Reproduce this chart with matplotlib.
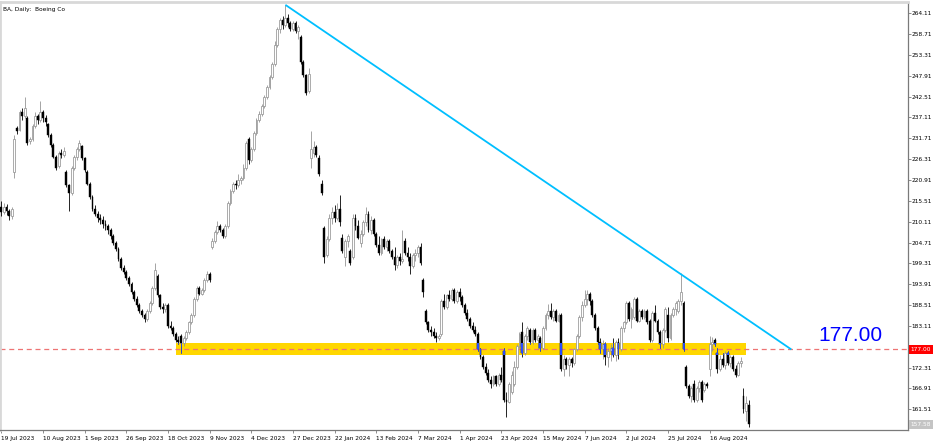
import matplotlib
matplotlib.use("Agg")
import matplotlib.pyplot as plt
import matplotlib.transforms as mtransforms
from matplotlib.patches import Rectangle
import numpy as np

title = "BA, Daily:  Boeing Co"

opens = [
    214.0, 212.5, 214.0, 212.8, 211.5, 223.0, 234.5, 234.0, 238.5, 237.5,
    237.0, 231.0, 231.5, 235.0, 237.5, 236.5, 238.5, 237.0, 235.5, 232.5,
    230.0, 227.0, 224.5, 228.0, 227.5, 223.0, 219.5, 217.5, 224.0, 227.0,
    229.0, 229.7, 226.5, 223.0, 220.0, 216.5, 213.5, 212.0, 211.0, 210.5,
    209.5, 209.0, 208.0, 206.5, 204.5, 203.0, 200.5, 198.0, 197.0, 195.5,
    194.0, 192.0, 190.0, 188.5, 187.0, 186.0, 185.0, 187.0, 189.0, 193.0,
    196.0, 191.0, 188.0, 187.5, 188.5, 183.0, 182.5, 181.0, 179.5, 180.5,
    178.8, 180.0, 181.5, 184.0, 186.0, 190.0, 193.0, 191.5, 192.5, 195.0,
    196.5, 203.5, 205.0, 207.5, 209.0, 208.0, 206.5, 209.0, 215.0, 218.0,
    220.0, 219.5, 221.0, 221.5, 224.0, 231.5, 226.0, 229.0, 233.0, 236.5,
    238.0, 240.0, 242.5, 245.0, 247.5, 251.0, 256.0, 260.0, 262.5, 261.0,
    263.0, 261.5, 260.0, 261.5, 259.5, 258.0, 251.5, 248.0, 244.0, 226.5,
    228.0, 229.5, 226.6, 220.0, 208.5, 201.5, 205.5, 211.0, 212.5, 211.0,
    213.5, 206.0, 201.0, 205.0, 202.5, 201.0, 211.0, 209.0, 204.5, 207.0,
    210.0, 212.0, 208.0, 210.5, 207.0, 204.0, 202.0, 205.5, 203.5, 205.0,
    202.5, 201.0, 199.0, 201.0, 200.0, 205.0, 202.0, 201.0, 198.5, 201.5,
    202.0, 203.5, 195.0, 187.0, 184.0, 182.0, 181.5, 180.5, 180.0, 181.0,
    189.5, 188.0, 191.0, 190.0, 192.5, 189.5, 192.0, 190.5, 188.5, 186.5,
    185.0, 183.0, 182.0, 181.0, 177.0, 175.0, 172.5, 171.0, 169.0, 168.0,
    170.0, 168.0, 170.5, 176.5, 164.0, 163.5, 166.0, 168.0, 172.5, 178.0,
    181.5, 176.0, 180.5, 182.0, 179.0, 182.0, 179.5, 180.0, 177.5, 182.5,
    186.0, 187.0, 185.5, 187.0, 184.5, 186.0, 172.0, 174.5, 173.0, 174.5,
    173.5, 177.0, 180.5, 185.5, 188.5, 190.0, 191.5, 189.5, 186.0, 182.5,
    179.0, 177.0, 178.5, 175.0, 176.5, 177.5, 175.5, 179.0, 177.0, 182.5,
    184.0, 189.0, 185.0, 185.5, 190.0, 184.5, 187.0, 185.5, 187.0, 184.5,
    179.5, 186.5, 184.5, 181.5, 178.5, 182.0, 186.0, 180.0, 186.0, 187.5,
    187.0, 189.5, 189.0, 172.5, 167.5, 165.0, 168.0, 164.0, 167.0, 168.5,
    166.5, 168.0, 172.0, 178.5, 179.5, 176.0, 172.0, 174.5, 173.0, 176.0,
    173.5, 175.0, 172.0, 170.5, 173.5, 165.0, 161.0, 162.5,
]

highs = [
    215.5, 215.0, 214.8, 213.5, 214.0, 232.5, 235.0, 239.0, 239.5, 242.5,
    237.5, 232.0, 235.5, 238.5, 238.0, 241.4, 239.0, 237.8, 235.8, 233.0,
    230.5, 227.5, 228.5, 229.0, 229.5, 223.5, 220.0, 224.5, 227.5, 229.5,
    231.2, 230.0, 227.0, 223.5, 220.5, 217.0, 214.5, 213.0, 212.0, 211.5,
    210.5, 209.5, 208.5, 207.0, 205.0, 203.5, 201.0, 199.0, 197.5, 196.0,
    194.5, 192.5, 190.8, 189.0, 187.5, 186.5, 187.5, 189.5, 193.5, 199.5,
    196.5, 191.5, 189.0, 189.0, 189.0, 184.5, 183.0, 181.5, 180.5, 181.0,
    180.5, 182.0, 184.5, 186.5, 190.5, 193.5, 193.5, 193.0, 195.5, 197.4,
    197.0, 206.0, 208.0, 210.3, 209.5, 208.5, 209.5, 215.5, 218.5, 220.5,
    221.0, 222.5, 222.0, 225.0, 231.0, 232.0, 229.5, 233.5, 237.0, 238.8,
    240.5, 243.0, 245.5, 248.0, 251.5, 256.9, 260.5, 263.0, 263.5, 266.2,
    264.0, 262.0, 262.0, 262.0, 261.0, 258.5, 252.0, 248.5, 250.0, 233.5,
    231.0, 230.0, 227.5, 221.0, 209.0, 206.5, 212.0, 214.0, 214.5, 215.0,
    217.0, 207.0, 205.5, 207.0, 203.0, 212.0, 212.0, 210.5, 208.0, 210.5,
    213.8, 213.0, 211.5, 211.0, 207.5, 206.5, 206.0, 206.5, 205.5, 205.5,
    203.0, 203.5, 201.5, 202.0, 208.0, 206.0, 203.5, 202.0, 202.0, 203.0,
    204.0, 204.5, 195.5, 187.5, 184.5, 183.0, 182.5, 181.5, 181.0, 190.0,
    191.5, 191.5, 192.5, 193.0, 193.0, 192.5, 192.8, 191.0, 189.0, 187.5,
    185.5, 184.0, 183.0, 181.5, 177.5, 175.5, 173.5, 172.0, 170.0, 170.5,
    170.5, 171.0, 172.5, 177.5, 166.0, 168.5, 171.5, 174.0, 178.5, 181.5,
    184.0, 181.0, 183.0, 182.5, 182.5, 182.5, 181.0, 180.5, 183.0, 186.5,
    188.9, 189.0, 187.5, 187.5, 186.5, 186.5, 175.5, 175.0, 175.0, 175.0,
    177.5, 181.0, 186.0, 189.5, 192.5, 192.5, 192.0, 190.0, 186.5, 183.0,
    180.0, 179.5, 179.0, 177.5, 178.5, 180.0, 179.5, 180.0, 183.0, 184.5,
    189.5, 189.5, 188.0, 190.5, 190.5, 187.5, 187.5, 187.5, 187.5, 185.0,
    187.0, 188.5, 185.0, 182.0, 182.5, 188.0, 188.0, 186.5, 188.0, 189.5,
    190.0, 196.7, 189.5, 173.0, 168.0, 167.5, 169.0, 167.5, 169.0, 169.0,
    168.5, 168.5, 180.5, 180.2, 180.0, 177.5, 175.5, 176.0, 176.5, 176.5,
    175.5, 175.5, 173.0, 174.0, 175.0, 167.0, 165.0, 164.0,
]

lows = [
    211.5, 212.0, 211.8, 210.5, 210.8, 221.5, 232.8, 233.5, 236.5, 237.0,
    230.0, 230.2, 231.0, 234.5, 235.5, 236.0, 236.0, 235.0, 232.0, 229.5,
    226.5, 223.5, 224.0, 226.5, 226.8, 219.0, 213.0, 217.0, 223.5, 226.0,
    228.5, 226.0, 223.0, 219.5, 216.0, 213.0, 211.5, 210.0, 209.5, 208.5,
    208.0, 207.0, 205.5, 204.0, 202.5, 200.0, 197.5, 196.5, 195.0, 193.5,
    191.5, 189.5, 188.0, 186.5, 185.5, 184.0, 184.5, 186.5, 188.5, 192.5,
    190.5, 187.5, 186.5, 186.8, 182.5, 182.0, 180.5, 179.0, 178.5, 176.0,
    178.0, 179.5, 181.0, 183.5, 185.5, 189.5, 191.0, 191.0, 192.0, 194.5,
    194.5, 203.0, 204.5, 207.0, 207.5, 206.0, 206.0, 208.5, 214.5, 217.5,
    218.5, 219.0, 220.0, 221.0, 223.5, 225.0, 225.5, 228.5, 232.5, 236.0,
    237.5, 239.5, 242.0, 244.5, 247.0, 250.5, 255.5, 259.0, 260.0, 260.5,
    260.5, 259.5, 259.5, 259.0, 257.5, 251.0, 247.5, 243.0, 243.5, 224.0,
    227.0, 227.0, 222.0, 217.0, 199.5, 201.0, 205.0, 209.5, 210.0, 210.5,
    209.0, 202.0, 198.5, 203.5, 199.0, 200.5, 208.0, 205.5, 203.5, 206.5,
    209.0, 207.5, 207.0, 206.5, 203.5, 201.5, 201.5, 203.0, 202.5, 202.0,
    200.5, 197.5, 198.0, 199.0, 199.5, 201.5, 200.0, 196.5, 198.0, 200.0,
    201.0, 199.0, 190.5, 183.5, 181.5, 180.5, 180.0, 179.0, 179.5, 180.5,
    187.5, 187.5, 189.5, 189.5, 189.0, 189.0, 189.5, 188.0, 186.0, 184.5,
    182.5, 181.5, 180.5, 176.5, 174.5, 172.0, 170.5, 168.5, 167.0, 167.5,
    167.5, 167.5, 168.5, 163.5, 159.5, 163.0, 165.5, 167.5, 172.0, 177.5,
    175.0, 175.5, 179.5, 178.5, 178.5, 179.0, 177.0, 176.5, 177.0, 182.0,
    185.0, 185.0, 184.5, 184.0, 184.0, 171.5, 170.0, 172.0, 170.0, 172.5,
    173.0, 176.5, 180.0, 184.5, 188.0, 188.5, 188.5, 185.5, 182.0, 178.5,
    176.0, 174.5, 173.0, 172.5, 174.0, 175.0, 174.0, 174.5, 176.5, 181.5,
    183.5, 184.5, 182.5, 185.0, 184.0, 184.0, 185.0, 185.0, 183.5, 179.0,
    179.0, 184.0, 181.0, 177.5, 177.5, 181.5, 179.0, 179.5, 185.5, 186.0,
    186.5, 188.5, 176.5, 167.0, 164.5, 163.5, 163.5, 163.5, 166.0, 163.5,
    166.0, 167.0, 170.0, 176.5, 178.0, 171.0, 171.5, 172.5, 172.0, 173.0,
    172.5, 171.5, 169.8, 170.0, 172.5, 160.5, 158.5, 157.0,
]

closes = [
    212.5, 214.0, 212.8, 211.5, 213.5, 231.5, 233.5, 238.5, 237.5, 239.5,
    230.5, 231.5, 235.0, 237.5, 236.5, 238.5, 237.0, 236.0, 232.5, 230.0,
    227.0, 224.0, 228.0, 227.5, 228.5, 219.5, 217.5, 224.0, 227.0, 229.0,
    230.5, 226.5, 223.5, 220.0, 216.5, 213.5, 212.0, 211.0, 210.5, 209.5,
    209.0, 208.0, 206.5, 204.5, 203.0, 200.5, 198.0, 197.0, 195.5, 194.0,
    192.0, 190.0, 188.5, 187.0, 186.0, 185.0, 187.0, 189.0, 193.0, 197.5,
    191.0, 188.0, 187.5, 188.5, 183.0, 182.5, 181.0, 179.5, 179.0, 178.8,
    180.0, 181.5, 184.0, 186.0, 190.0, 193.0, 191.5, 192.5, 195.0, 196.5,
    195.0, 205.0, 207.5, 209.0, 208.0, 206.5, 209.0, 215.0, 218.0, 220.0,
    219.5, 221.0, 221.5, 224.0, 230.5, 226.0, 229.0, 233.0, 236.5, 238.0,
    240.0, 242.5, 245.0, 247.5, 251.0, 256.0, 260.0, 262.5, 261.0, 263.0,
    261.5, 260.0, 261.5, 259.5, 260.5, 251.5, 248.0, 243.5, 248.5, 229.0,
    229.5, 227.5, 222.5, 217.6, 201.0, 205.5, 211.0, 212.5, 211.0, 213.5,
    210.0, 202.5, 205.0, 206.5, 199.5, 211.0, 209.0, 206.0, 207.0, 210.0,
    212.0, 208.0, 210.5, 207.0, 204.0, 202.0, 205.5, 203.5, 205.0, 202.5,
    201.0, 199.0, 201.0, 200.0, 200.5, 202.0, 201.0, 198.5, 201.5, 202.0,
    203.5, 199.5, 192.0, 184.0, 182.0, 181.5, 180.5, 180.0, 180.5, 189.5,
    188.0, 191.0, 190.0, 192.5, 189.5, 192.0, 190.5, 188.5, 186.5, 185.0,
    183.0, 182.0, 181.0, 177.0, 175.0, 172.5, 171.0, 169.0, 168.0, 170.0,
    168.0, 170.5, 169.0, 164.0, 163.5, 168.0, 170.5, 172.5, 178.0, 181.0,
    176.0, 180.5, 182.5, 179.0, 182.0, 179.5, 180.5, 177.5, 182.5, 186.0,
    187.0, 185.5, 187.0, 184.5, 186.0, 172.0, 174.5, 173.0, 174.5, 173.5,
    177.0, 180.5, 185.5, 188.5, 190.0, 191.5, 189.5, 186.0, 182.5, 179.0,
    177.0, 178.5, 175.0, 176.5, 177.5, 175.5, 179.0, 177.0, 182.5, 184.0,
    189.0, 185.0, 187.5, 190.0, 184.5, 187.0, 185.5, 187.0, 184.0, 179.5,
    186.5, 184.5, 181.5, 178.5, 182.0, 187.5, 180.0, 186.0, 187.5, 189.0,
    189.5, 192.0, 177.0, 167.5, 165.0, 167.0, 164.0, 167.0, 168.5, 164.0,
    168.0, 167.5, 178.5, 179.0, 178.5, 172.0, 174.5, 173.0, 176.0, 173.5,
    175.0, 172.0, 170.5, 173.5, 174.0, 161.5, 163.0, 157.58,
]

date_labels = ["19 Jul 2023", "10 Aug 2023", "1 Sep 2023", "26 Sep 2023",
               "18 Oct 2023", "9 Nov 2023", "4 Dec 2023", "27 Dec 2023",
               "22 Jan 2024", "13 Feb 2024", "7 Mar 2024", "1 Apr 2024",
               "23 Apr 2024", "15 May 2024", "7 Jun 2024", "2 Jul 2024",
               "25 Jul 2024", "16 Aug 2024"]
date_label_bars = [0, 16, 32, 48, 64, 80, 96, 112, 128, 144, 160, 176,
                   192, 208, 224, 240, 256, 272]
price_ticks = [264.11, 258.71, 253.31, 247.91, 242.51, 237.11, 231.71,
               226.31, 220.91, 215.51, 210.11, 204.71, 199.31, 193.91,
               188.51, 183.11, 177.71, 172.31, 166.91, 161.51]
# the 177.71 label sits under the red price box in the reference
hidden_tick = 177.71

zone_bars = [67.2, 286.1]
zone_prices = [175.56, 178.67]
trend_bars = [109.1, 303.4]
trend_prices = [266.3, 177.0]
level_price = 177.00
level_text = "177.00"
last_price = 157.58

# ---------------- figure geometry ----------------
W, H = 936, 442
PX_PER_BAR = 2.604
PLOT_RIGHT = 908
PLOT_TOP, PLOT_BOTTOM = 2, 430
Y_AT_TOP, Y_AT_BOTTOM = 267.04, 156.13

fig = plt.figure(figsize=(W / 100, H / 100), dpi=100)
fig.patch.set_facecolor("white")
ax = fig.add_axes([0, (H - PLOT_BOTTOM) / H, PLOT_RIGHT / W,
                   (PLOT_BOTTOM - PLOT_TOP) / H])
ax.set_facecolor("white")
ax.set_xlim(-0.5, PLOT_RIGHT / PX_PER_BAR - 0.5)
ax.set_ylim(Y_AT_BOTTOM, Y_AT_TOP)

o = np.array(opens)
h = np.array(highs)
l = np.array(lows)
c = np.array(closes)
x = np.arange(len(o))
bull = c >= o
bear = ~bull
body_lo = np.minimum(o, c)
body_h = np.maximum(np.abs(c - o), 0.18)

# support zone
zone = Rectangle((zone_bars[0], zone_prices[0]), zone_bars[1] - zone_bars[0],
                 zone_prices[1] - zone_prices[0], facecolor="#FFD700",
                 edgecolor="none", zorder=1)
ax.add_patch(zone)

# level line
ax.axhline(level_price, color="#ee7474", lw=0.9, ls=(0, (4, 3)), zorder=2)

# candles
BULL_C = "#959595"
ax.vlines(x[bull], l[bull], h[bull], color=BULL_C, lw=0.6, zorder=3)
ax.vlines(x[bear], l[bear], h[bear], color="black", lw=0.6, zorder=3)
ax.bar(x[bull], body_h[bull], bottom=body_lo[bull], width=0.72,
       facecolor="white", edgecolor=BULL_C, linewidth=0.55, zorder=3.5)
ax.bar(x[bear], body_h[bear], bottom=body_lo[bear], width=0.72,
       facecolor="black", edgecolor="black", linewidth=0.3, zorder=3.5)

# bear candles look blue where they cross the zone
BLUE = "#2a4dff"
lc = ax.vlines(x[bear], l[bear], h[bear], color=BLUE, lw=0.6, zorder=4)
lc.set_clip_path(zone)
bb = ax.bar(x[bear], body_h[bear], bottom=body_lo[bear], width=0.72,
            facecolor=BLUE, edgecolor=BLUE, linewidth=0.3, zorder=4.5)
for p in bb:
    p.set_clip_path(zone)

# trend line
ax.plot(trend_bars, trend_prices, color="#00BFFF", lw=1.3, zorder=5,
        solid_capstyle="butt")

ax.text(313.7, 180.66, level_text, color="#0000FF", fontsize=15,
        family="Liberation Sans", ha="left", va="center", zorder=6)

# title
ax.text(3 / PLOT_RIGHT, 1 - 7 / (PLOT_BOTTOM - PLOT_TOP), title,
        transform=ax.transAxes, fontsize=4.2, ha="left", va="center",
        color="black", family="DejaVu Sans")

# axes styling
for side in ["left", "top"]:
    ax.spines[side].set_color("#d8d8d8")
    ax.spines[side].set_linewidth(2.0)
for side in ["right", "bottom"]:
    ax.spines[side].set_color("#7a7a7a")
    ax.spines[side].set_linewidth(0.9)

ax.yaxis.tick_right()
ax.set_yticks(price_ticks)
ax.set_yticklabels(["" if p == hidden_tick else f"{p:.2f}"
                    for p in price_ticks])
ax.tick_params(axis="y", direction="out", length=2, width=0.6,
               color="#7a7a7a", pad=0.8, labelsize=4.2, labelcolor="black")
ax.set_xticks(date_label_bars)
ax.set_xticklabels(date_labels)
for lbl in ax.get_xticklabels():
    lbl.set_ha("left")
ax.tick_params(axis="x", direction="out", length=2.5, width=0.6,
               color="#7a7a7a", pad=2.0, labelsize=4.2, labelcolor="black")
for lbl in ax.get_xticklabels() + ax.get_yticklabels():
    lbl.set_family("DejaVu Sans")

# price labels on the right axis
trans = mtransforms.blended_transform_factory(ax.transAxes, ax.transData)
ax.text(1 + 2.5 / PLOT_RIGHT, level_price, level_text, transform=trans,
        fontsize=4.2, color="white", ha="left", va="center", zorder=10,
        family="DejaVu Sans", clip_on=False,
        bbox=dict(boxstyle="square,pad=0.3", facecolor="#ff0000",
                  edgecolor="none"))
ax.text(1 + 2.5 / PLOT_RIGHT, last_price, f"{last_price:.2f}",
        transform=trans, fontsize=4.2, color="white", ha="left",
        va="center", zorder=10, family="DejaVu Sans", clip_on=False,
        bbox=dict(boxstyle="square,pad=0.3", facecolor="#c4c4c4",
                  edgecolor="none"))

fig.savefig("out.png", dpi=100, facecolor="white")
